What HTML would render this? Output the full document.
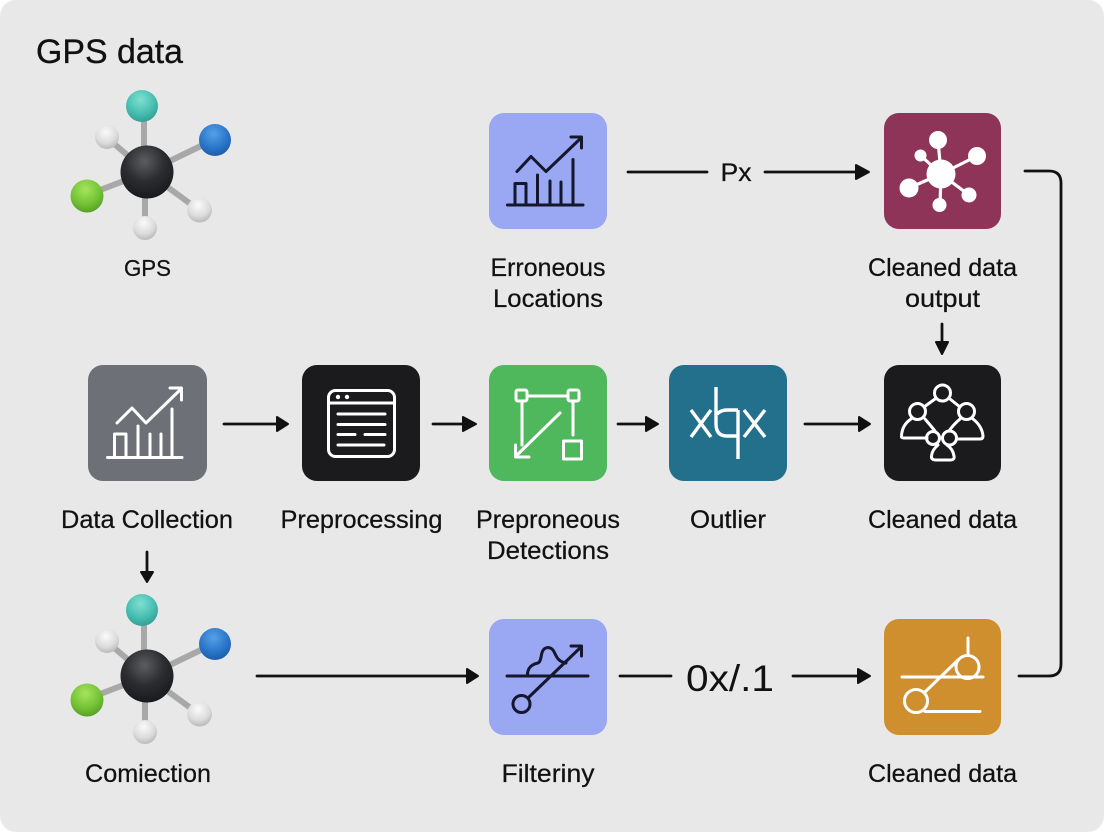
<!DOCTYPE html>
<html><head><meta charset="utf-8">
<style>
html,body{margin:0;padding:0;width:1104px;height:832px;overflow:hidden;background:#fff}
svg{display:block}
text{font-family:"Liberation Sans",sans-serif;fill:#111}
.l{font-size:25px;text-anchor:middle;stroke:#111;stroke-width:.25px}
.w{fill:none;stroke:#fff;stroke-width:3;stroke-linecap:round;stroke-linejoin:round}
.k{fill:none;stroke:#14172e;stroke-width:3;stroke-linecap:round;stroke-linejoin:round}
.c{fill:none;stroke:#111;stroke-width:2.8;stroke-linecap:round;stroke-linejoin:round}
.bond{stroke:#a8a8a8;stroke-width:6}
</style></head><body>
<svg width="1104" height="832" viewBox="0 0 1104 832" xmlns="http://www.w3.org/2000/svg">
<defs>
<radialGradient id="gk" cx=".45" cy=".3" r=".75"><stop offset="0" stop-color="#5c5d60"/><stop offset=".5" stop-color="#2c2d30"/><stop offset="1" stop-color="#16171a"/></radialGradient>
<radialGradient id="gt" cx=".45" cy=".3" r=".75"><stop offset="0" stop-color="#7fe0d2"/><stop offset=".6" stop-color="#46bdb0"/><stop offset="1" stop-color="#2f9a90"/></radialGradient>
<radialGradient id="gb" cx=".45" cy=".3" r=".75"><stop offset="0" stop-color="#58a0e8"/><stop offset=".6" stop-color="#2a75c9"/><stop offset="1" stop-color="#1c5aa5"/></radialGradient>
<radialGradient id="gg" cx=".45" cy=".3" r=".75"><stop offset="0" stop-color="#a6e45e"/><stop offset=".6" stop-color="#74c236"/><stop offset="1" stop-color="#529a22"/></radialGradient>
<radialGradient id="gw" cx=".45" cy=".3" r=".75"><stop offset="0" stop-color="#fafafa"/><stop offset=".6" stop-color="#dcdcdc"/><stop offset="1" stop-color="#b2b2b2"/></radialGradient>
<g id="mol">
<path class="bond" d="M144 172V120M147 172L205 144M147 172L95 192M147 172L112 142M147 172L192 205M145 172V222"/>
<circle cx="142" cy="106" r="16" fill="url(#gt)"/>
<circle cx="215" cy="140" r="16" fill="url(#gb)"/>
<circle cx="87" cy="196" r="16.500" fill="url(#gg)"/>
<circle cx="107" cy="137" r="12" fill="url(#gw)"/>
<circle cx="199.500" cy="210" r="12.500" fill="url(#gw)"/>
<circle cx="145" cy="228" r="12" fill="url(#gw)"/>
<circle cx="147" cy="172" r="26.500" fill="url(#gk)"/>
</g>
</defs>

<rect width="1104" height="832" rx="16" fill="#e8e8e9"/>
<text x="36" y="63" font-size="34" textLength="147" lengthAdjust="spacingAndGlyphs" style="stroke:#111;stroke-width:.3px">GPS data</text>

<use href="#mol"/>
<use href="#mol" y="504"/>

<!-- boxes -->
<rect x="489" y="113" width="118" height="116" rx="15" fill="#9aa7f3"/>
<rect x="884" y="113" width="117" height="116" rx="15" fill="#8f3459"/>
<rect x="88" y="365" width="119" height="116" rx="15" fill="#6d7076"/>
<rect x="302" y="365" width="118" height="116" rx="15" fill="#1b1b1e"/>
<rect x="489" y="365" width="118" height="116" rx="15" fill="#4fb75c"/>
<rect x="669" y="365" width="118" height="116" rx="15" fill="#23708d"/>
<rect x="884" y="365" width="117" height="116" rx="15" fill="#1b1b1e"/>
<rect x="489" y="619" width="118" height="116" rx="15" fill="#9aa7f3"/>
<rect x="884" y="619" width="117" height="116" rx="15" fill="#cf8f2f"/>

<!-- chart dark -->
<g class="k">
<path d="M507.500 205H583M515 205V183.500H526V205M537.500 205V175M550 205V181M561 205V182M573 205V159.500"/>
<path d="M517 171.500L531 156.500L546 171.500L581 138M571 137H581.500V148"/>
</g>

<!-- hub -->
<g fill="#fff" stroke="#fff">
<path stroke-width="3.200" d="M941 174L938 140M941 174L977 156M941 174L920 155M941 174L909 188M941 174L969 195M941 174L940 205" fill="none"/>
<circle cx="941" cy="174" r="14.500" stroke="none"/>
<circle cx="938" cy="140" r="9" stroke="none"/>
<circle cx="977" cy="156" r="9" stroke="none"/>
<circle cx="920.500" cy="155.500" r="6" stroke="none"/>
<circle cx="909" cy="188" r="9.500" stroke="none"/>
<circle cx="969" cy="195" r="7.500" stroke="none"/>
<circle cx="939.500" cy="205" r="7" stroke="none"/>
</g>

<!-- chart light -->
<g class="w">
<path d="M107.500 457.500H182M114.500 457V434H126V457M138 457V426M150 457V434M161 457V434M172 457V409"/>
<path d="M117 423L132 408L146 423L181 389M170 388H181.500V400"/>
</g>

<!-- window -->
<g class="w">
<rect x="328.500" y="390.500" width="66" height="66" rx="7"/>
<path d="M329 403H394M338 414H385M338 424.500H385M338 434.500H355M365 434.500H385M338 445H384"/>
</g>
<circle cx="338" cy="397" r="2.200" fill="#fff"/><circle cx="347" cy="397" r="2.200" fill="#fff"/>

<!-- detection -->
<g class="w">
<rect x="516" y="390" width="11" height="11" rx="2"/>
<rect x="568" y="390" width="11" height="11" rx="2"/>
<rect x="563.500" y="441" width="18" height="18"/>
<path d="M527 396H568M522 401V445M573 401V435M560 413L516 456M515.500 445V457H529"/>
</g>

<!-- xbx -->
<g class="w" style="stroke-width:3.400;stroke-linecap:butt">
<path d="M691 410L711 437M711 410L691 437M744 410L765 437M765 410L744 437"/>
<path d="M716 387V424Q716 436 727 436H738M738 410H727Q721 410 717 414M738 410V459"/>
</g>

<!-- people -->
<g class="w" style="stroke-width:3">
<circle cx="942.500" cy="393" r="8"/>
<circle cx="917.500" cy="411.500" r="8"/>
<circle cx="966.500" cy="411.500" r="8"/>
<circle cx="949.500" cy="438" r="7"/>
<circle cx="933" cy="438" r="6.500"/>
<path d="M935 399L924 407M950 399L960 407"/>
<path d="M911 419Q902 425 901.500 436Q901 438 904 438H927M925 419Q931 426 935 431"/>
<path d="M960 419Q953 425 949 431M973 419Q982 426 983 436Q983 439 980 439H958"/>
<path d="M938 445Q932 450 931.500 456Q931 460 936 460H950Q955 460 954 456Q953 449 947 445"/>
</g>

<!-- filter -->
<g class="k">
<path d="M507 676H588M528 698L581 647M571 646H581.500V656"/>
<circle cx="521.500" cy="704" r="8.500"/>
<path d="M527.500 676C527 667 533 664 538 663C543 661 539 648 548 647.500C557 648 553 661 566 663"/>
</g>

<!-- pulleys -->
<g class="w">
<path d="M902 677H983M968 638V655M925 692L958 660M925 711.500H980"/>
<circle cx="967.500" cy="667" r="11.500"/>
<circle cx="916" cy="701" r="11.500"/>
</g>

<!-- connectors -->
<g class="c">
<path d="M628 172H707M765 172H856"/>
<path d="M1025 171H1049Q1061 171 1061 183V664Q1061 676 1049 676H1019"/>
<path d="M224 424H276M433 424H462M618 424H645M805 424H858"/>
<path d="M147 552V572M942 324V342"/>
<path d="M257 676H466M620 676H671M793 676H857"/>
</g>
<g fill="#111" stroke="#111" stroke-width="2" stroke-linejoin="round">
<path d="M856 165L869 172L856 179Z"/>
<path d="M277 417L288 424L277 431Z"/>
<path d="M463 417L476 424L463 431Z"/>
<path d="M646 417L658 424L646 431Z"/>
<path d="M859 417L870 424L859 431Z"/>
<path d="M141 572H153L147 582Z"/>
<path d="M936 342H948L942 354Z"/>
<path d="M467 669L478 676L467 683Z"/>
<path d="M858 669L870 676L858 683Z"/>
</g>

<!-- labels -->
<text class="l" x="147.500" y="276" style="font-size:23px" textLength="47" lengthAdjust="spacingAndGlyphs">GPS</text>
<text class="l" x="548" y="276" textLength="115" lengthAdjust="spacingAndGlyphs">Erroneous</text>
<text class="l" x="548" y="307" textLength="110" lengthAdjust="spacingAndGlyphs">Locations</text>
<text class="l" x="942.500" y="276" textLength="149" lengthAdjust="spacingAndGlyphs">Cleaned data</text>
<text class="l" x="942.500" y="307" textLength="75" lengthAdjust="spacingAndGlyphs">output</text>
<text class="l" x="736" y="181" textLength="31" lengthAdjust="spacingAndGlyphs">Px</text>
<text class="l" x="147" y="528" textLength="172" lengthAdjust="spacingAndGlyphs">Data Collection</text>
<text class="l" x="361.500" y="528" textLength="162" lengthAdjust="spacingAndGlyphs">Preprocessing</text>
<text class="l" x="548" y="528" textLength="144" lengthAdjust="spacingAndGlyphs">Preproneous</text>
<text class="l" x="548" y="559" textLength="122" lengthAdjust="spacingAndGlyphs">Detections</text>
<text class="l" x="728" y="528" textLength="76" lengthAdjust="spacingAndGlyphs">Outlier</text>
<text class="l" x="942.500" y="528" textLength="149" lengthAdjust="spacingAndGlyphs">Cleaned data</text>
<text class="l" x="148" y="782" textLength="126" lengthAdjust="spacingAndGlyphs">Comiection</text>
<text class="l" x="548" y="782" textLength="93" lengthAdjust="spacingAndGlyphs">Filteriny</text>
<text class="l" x="942.500" y="782" textLength="149" lengthAdjust="spacingAndGlyphs">Cleaned data</text>
<text x="686" y="691" font-size="37" textLength="88" lengthAdjust="spacingAndGlyphs">0x/.1</text>
</svg>
</body></html>
